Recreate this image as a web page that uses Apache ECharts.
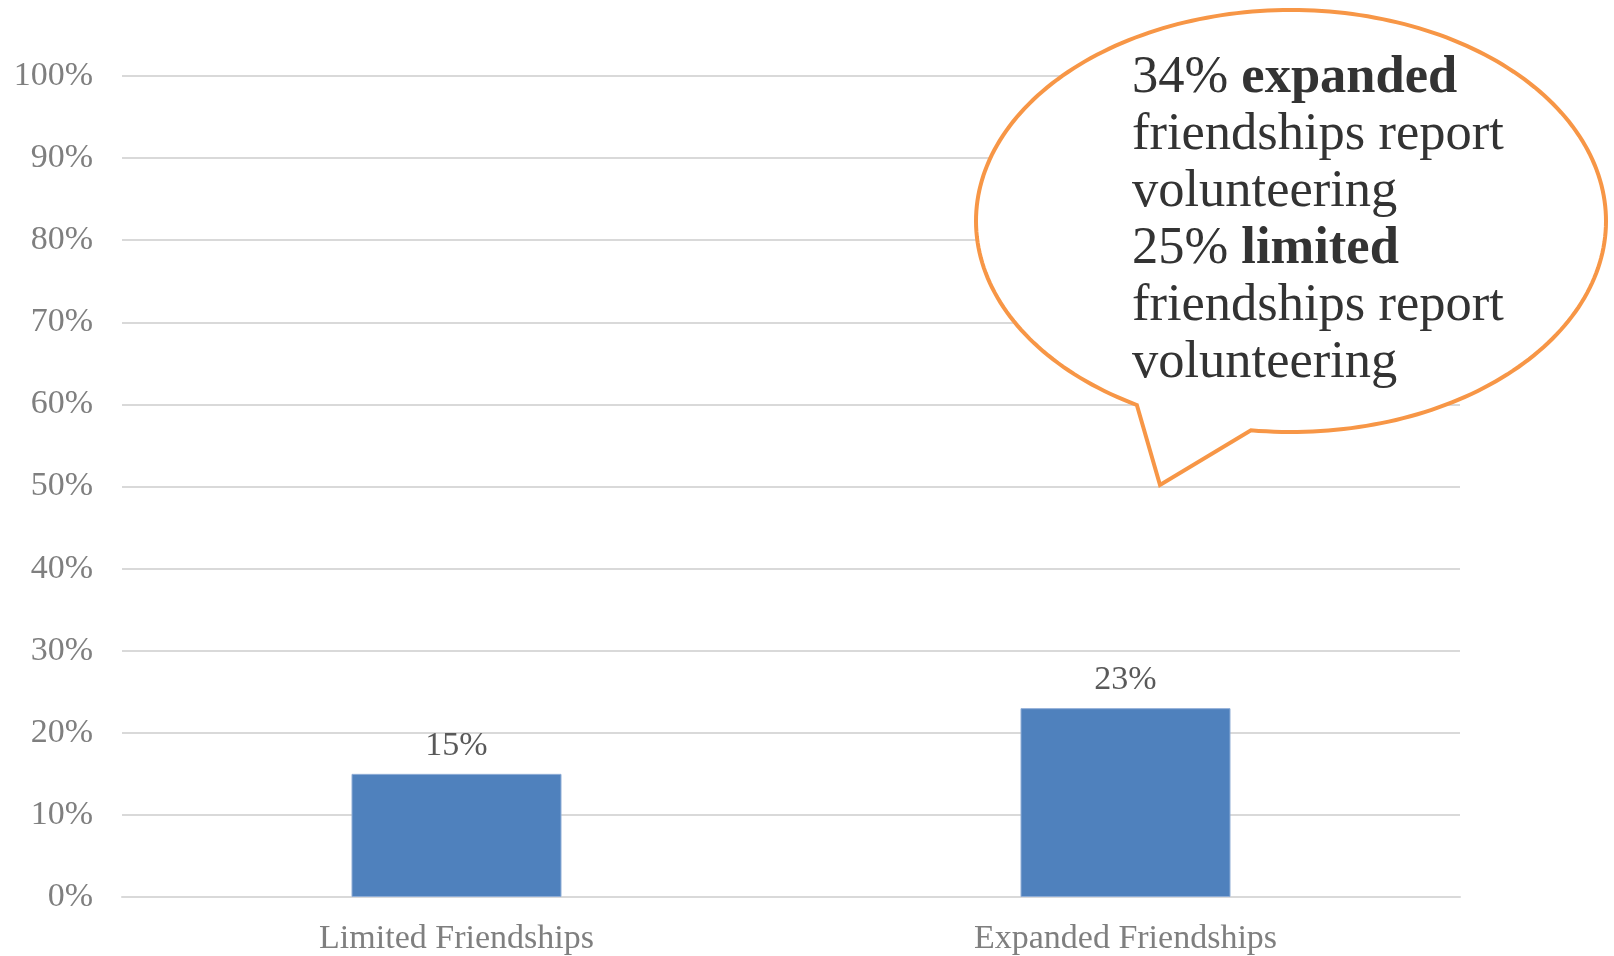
<!DOCTYPE html>
<html>
<head>
<meta charset="utf-8">
<script src="https://cdn.jsdelivr.net/npm/echarts@6/dist/echarts.min.js"></script>
<style>
  html, body { margin: 0; padding: 0; background: #ffffff; }
  #chart { width: 1614px; height: 956px; }
</style>
</head>
<body>
<div id="chart"></div>
<script>
// Share of each friendship group (percent)
const categories = ['Limited Friendships', 'Expanded Friendships'];
const values = [15, 23];
const yTicks = [0, 10, 20, 30, 40, 50, 60, 70, 80, 90, 100];

// Callout text lines: [regular part, bold part]
const calloutLines = [
  ['34% ', 'expanded'],
  ['friendships report', ''],
  ['volunteering', ''],
  ['25% ', 'limited'],
  ['friendships report', ''],
  ['volunteering', '']
];

const FONT = '"Liberation Serif", "Times New Roman", serif';

// Speech bubble outline: ellipse with a pointed tail
function bubblePoints(cx, cy, rx, ry, fromDeg, toDeg, tip) {
  const pts = [];
  const start = fromDeg, end = toDeg + 360;
  const steps = 240;
  for (let i = 0; i <= steps; i++) {
    const t = (start + (end - start) * i / steps) * Math.PI / 180;
    pts.push([cx + rx * Math.cos(t), cy + ry * Math.sin(t)]);
  }
  pts.push(tip);
  return pts;
}

const richText = calloutLines.map(([n, b]) =>
  (n ? '{n|' + n + '}' : '') + (b ? '{b|' + b + '}' : '')
).join('\n');

const chart = echarts.init(document.getElementById('chart'), null, { renderer: 'canvas' });

chart.setOption({
  backgroundColor: '#ffffff',
  animation: false,
  grid: { left: 122, right: 154, top: 76, bottom: 59, containLabel: false },
  xAxis: {
    type: 'category',
    data: categories,
    axisLine: { show: true, lineStyle: { color: '#D9D9D9', width: 2 } },
    axisTick: { show: false },
    axisLabel: { color: '#7F7F7F', fontSize: 34, fontFamily: FONT, margin: 25 }
  },
  yAxis: {
    type: 'value',
    min: yTicks[0],
    max: yTicks[yTicks.length - 1],
    interval: yTicks[1] - yTicks[0],
    axisLine: { show: false },
    axisTick: { show: false },
    splitLine: { lineStyle: { color: '#D9D9D9', width: 2 } },
    axisLabel: { color: '#7F7F7F', fontSize: 34, fontFamily: FONT, margin: 29, formatter: '{value}%' }
  },
  series: [{
    type: 'bar',
    data: values,
    barWidth: 210,
    itemStyle: { color: '#4F81BD', borderColor: '#8FADD6', borderWidth: 1 },
    label: {
      show: true,
      position: 'top',
      distance: 11,
      color: '#595959',
      fontSize: 34,
      fontFamily: FONT,
      formatter: p => p.value + '%'
    }
  }],
  graphic: [
    {
      type: 'polygon',
      shape: { points: bubblePoints(1291, 221, 315, 211, 119.3, 97.3, [1160, 485]) },
      style: { fill: '#ffffff', stroke: '#F79646', lineWidth: 4, lineJoin: 'miter' },
      z: 10
    },
    {
      type: 'text',
      left: 1132,
      top: 50,
      z: 11,
      style: {
        text: richText,
        fill: '#333333',
        font: '52.5px ' + FONT,
        lineHeight: 57,
        rich: {
          n: { fontSize: 52.5, fontFamily: FONT, color: '#333333', lineHeight: 57 },
          b: { fontSize: 52.5, fontFamily: FONT, fontWeight: 'bold', color: '#333333', lineHeight: 57 }
        }
      }
    }
  ]
});
</script>
</body>
</html>
